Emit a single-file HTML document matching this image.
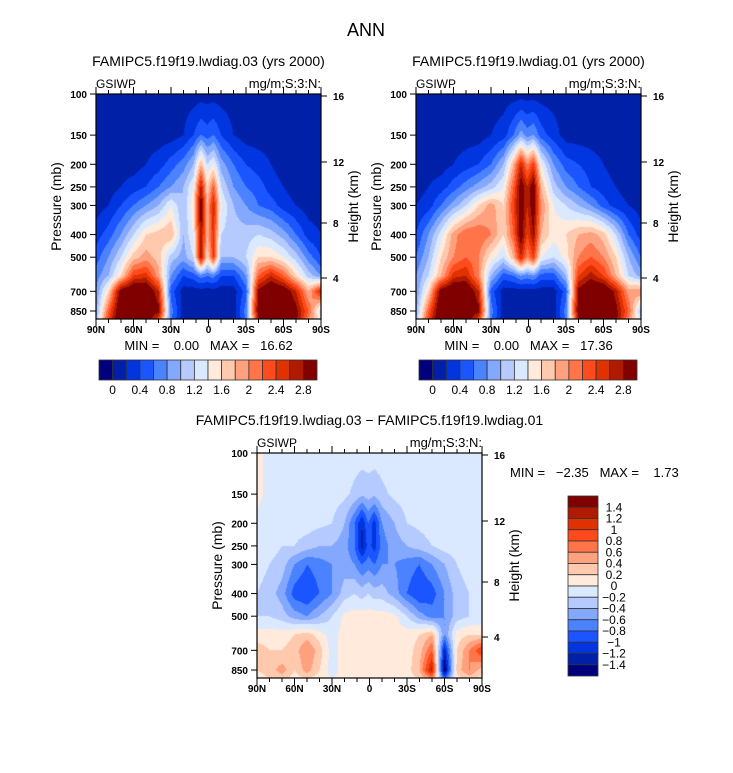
<!DOCTYPE html>
<html><head><meta charset="utf-8"><style>
body{margin:0;background:#fff;width:733px;height:773px;position:relative;overflow:hidden;font-family:"Liberation Sans",sans-serif;}
.t{position:absolute;white-space:nowrap;color:#000;}
canvas{position:absolute;}
svg{position:absolute;left:0;top:0;}
</style></head><body>
<div class="t" style="left:347px;top:20px;font-size:18px;">ANN</div>
<canvas id="cA" width="225" height="225" style="left:96px;top:94px"></canvas>
<canvas id="cB" width="225" height="225" style="left:416px;top:94px"></canvas>
<canvas id="cC" width="225" height="225" style="left:257px;top:453px"></canvas>
<svg id="ov" width="733" height="773"></svg>
<script>
const lats=[90,80,70,60,50,40,30,20,12,6,1,-4,-10,-20,-30,-40,-50,-60,-70,-80,-90];
const pres=[100,150,200,250,300,400,500,600,700,850,925];
const colors=["#00007f","#0020a8","#0035e0","#1a55ff","#4a82ff","#85a8ff","#b5cbff","#dae9ff","#ffeadc","#ffc9ae","#ffa07e","#ff7448","#ff4a1c","#e03200","#b01a00","#800000"];
const levA=[0,0.2,0.4,0.6,0.8,1,1.2,1.4,1.6,1.8,2,2.2,2.4,2.6,2.8];
const levC=[-1.4,-1.2,-1,-0.8,-0.6,-0.4,-0.2,0,0.2,0.4,0.6,0.8,1,1.2,1.4];
const bar1Labels=["0","0.4","0.8","1.2","1.6","2","2.4","2.8"];
const bar2Labels=["1.4","1.2","1","0.8","0.6","0.4","0.2","0","\u22120.2","\u22120.4","\u22120.6","\u22120.8","\u22121","\u22121.2","\u22121.4"];
const presTicks=[100,150,200,250,300,400,500,700,850];
const heightTicks=[[16,96],[12,162],[8,223],[4,278]];
const latTicks=[["90N",90],["60N",60],["30N",30],["0",0],["30S",-30],["60S",-60],["90S",-90]];
const fieldA=[
[.1,.1,.1,.1,.1,.1,.1,.1,.1,.1,.1,.1,.1,.1,.1,.1,.1,.1,.1,.1,.1],
[.1,.1,.1,.1,.1,.1,.1,.2,.4,.6,.5,.6,.4,.2,.1,.1,.1,.1,.1,.1,.1],
[.1,.1,.1,.1,.2,.3,.5,.7,1.0,1.8,1.2,1.4,.9,.6,.4,.3,.2,.1,.1,.1,.1],
[.1,.1,.2,.3,.4,.6,.8,1.0,1.4,2.7,1.6,2.2,1.2,.8,.6,.5,.3,.2,.1,.1,.1],
[.1,.2,.4,.6,.8,1.0,1.4,1.0,1.6,3.0,1.8,2.6,1.4,1.0,.8,.6,.5,.3,.2,.1,.1],
[.3,.5,.8,1.2,1.6,1.7,1.8,1.0,1.4,2.8,1.8,2.5,1.2,1.1,1.1,1.2,1.1,.9,.6,.3,.2],
[.5,.8,1.2,1.7,1.9,1.7,1.1,.9,1.2,2.8,1.6,2.4,1.0,1.0,1.2,1.6,1.6,1.4,1.1,.7,.4],
[.7,1.0,1.6,2.4,2.5,1.9,.8,.4,.5,.7,.6,.7,.4,.4,.8,2.2,2.6,2.2,1.6,1.1,.8],
[.8,1.6,3.0,3.2,3.2,2.6,.5,.1,.1,.1,.1,.1,.1,.1,.5,2.9,3.2,3.1,2.6,1.8,2.6],
[.9,2.2,3.2,3.2,3.2,2.9,.7,.1,.1,.1,.1,.1,.1,.1,.7,3.0,3.2,3.2,2.9,2.2,1.2],
[1.0,2.4,3.2,3.2,3.0,2.4,.6,.1,.1,.1,.1,.1,.1,.1,.6,2.8,3.2,3.2,2.9,2.0,1.5]];
const fieldB=[
[.1,.1,.1,.1,.1,.1,.1,.1,.1,.1,.1,.1,.1,.1,.1,.1,.1,.1,.1,.1,.1],
[.1,.1,.1,.1,.1,.1,.2,.3,.6,.9,.7,.8,.5,.3,.1,.1,.1,.1,.1,.1,.1],
[.1,.1,.1,.2,.3,.4,.6,1.0,1.8,2.6,2.0,2.4,1.4,.8,.5,.4,.3,.2,.1,.1,.1],
[.1,.2,.3,.5,.7,.9,1.1,1.4,2.2,3.0,2.6,3.0,1.8,1.1,.8,.6,.4,.3,.2,.1,.1],
[.2,.3,.6,.9,1.2,1.6,1.9,1.6,2.4,3.0,2.6,3.0,2.0,1.4,1.2,1.0,.8,.5,.3,.2,.1],
[.4,.8,1.3,1.9,2.2,2.2,2.0,1.6,2.2,3.0,2.4,2.8,1.8,1.5,1.6,1.8,1.9,1.7,1.2,.6,.3],
[.6,1.0,1.6,2.0,2.2,2.0,1.5,1.2,1.8,2.6,2.0,2.4,1.4,1.2,1.5,2.0,2.2,2.0,1.6,1.0,.6],
[.8,1.2,1.8,2.5,2.6,2.0,1.0,.5,.6,.8,.7,.8,.5,.5,1.0,2.4,2.7,2.4,1.8,1.2,.9],
[.8,1.6,3.0,3.2,3.2,2.6,.5,.1,.1,.1,.1,.1,.1,.1,.5,2.9,3.2,3.2,2.7,1.9,2.0],
[.9,2.2,3.2,3.2,3.2,2.9,.7,.1,.1,.1,.1,.1,.1,.1,.7,3.0,3.2,3.2,2.9,2.2,1.0],
[1.0,2.4,3.2,3.2,3.0,2.4,.6,.1,.1,.1,.1,.1,.1,.1,.6,2.8,3.2,3.2,2.9,2.0,1.3]];
const fieldC=[
[.1,-.1,-.1,-.1,-.1,-.1,-.1,-.1,-.1,-.1,-.1,-.1,-.1,-.1,-.1,-.1,-.1,-.1,-.1,-.1,-.1],
[.1,-.1,-.1,-.1,-.1,-.1,-.1,-.15,-.25,-.35,-.3,-.35,-.25,-.15,-.1,-.1,-.1,-.1,-.1,-.1,-.1],
[-.1,-.1,-.1,-.1,-.1,-.15,-.2,-.4,-.8,-1.2,-.8,-1.1,-.6,-.4,-.2,-.15,-.1,-.1,-.1,-.1,-.1],
[-.1,-.1,-.2,-.2,-.3,-.4,-.4,-.5,-.8,-1.3,-.9,-1.1,-.7,-.5,-.4,-.3,-.2,-.1,-.1,-.1,-.1],
[-.1,-.2,-.3,-.6,-.8,-.7,-.6,-.5,-.6,-.8,-.7,-.8,-.6,-.6,-.7,-.8,-.6,-.4,-.2,-.1,-.1],
[-.2,-.3,-.5,-.9,-1.0,-.8,-.6,-.3,-.2,-.3,-.2,-.3,-.3,-.5,-.8,-1.0,-.9,-.6,-.3,-.2,-.2],
[-.2,-.2,-.3,-.5,-.6,-.4,-.2,.05,.1,.1,.1,.1,.1,.05,-.2,-.5,-.7,-.6,-.3,-.2,-.2],
[.1,.1,.1,.2,.3,.1,-.1,.1,.1,.1,.1,.1,.1,.1,.1,.2,.4,-.6,.1,.2,.2],
[.3,.2,.2,.3,.6,.3,-.1,.1,.1,.1,.1,.1,.1,.1,.1,.3,.8,-1.2,.2,.6,1.0],
[.2,.3,.5,.2,.5,.2,-.1,.1,.1,.1,.1,.1,.1,.1,.1,.4,1.3,-1.6,.3,.6,.3],
[.1,.2,.3,.1,.2,.1,0,.1,.1,.1,.1,.1,.1,.1,.1,.2,.6,-.8,.1,.3,.1]];

const W=225,H=225,K=101.4;
function xOf(lat){return (90-lat)/180*W;}
function yOf(p){return K*Math.log(p/100);}
function interp1(arr,v){
  if(v<=arr[0])return[0,0];
  for(let i=0;i<arr.length-1;i++){if(v<=arr[i+1])return[i,(v-arr[i])/(arr[i+1]-arr[i])];}
  return[arr.length-2,1];
}
const xs=lats.map(xOf), ys=pres.map(yOf);
function drawField(id,field,lev){
  const ctx=document.getElementById(id).getContext('2d');
  for(let py=0;py<H;py++){
    const [j,ty]=interp1(ys,py+0.5);
    for(let px=0;px<W;px++){
      const [i,tx]=interp1(xs,px+0.5);
      const a=field[j][i]*(1-tx)+field[j][i+1]*tx;
      const b=field[j+1][i]*(1-tx)+field[j+1][i+1]*tx;
      const v=a*(1-ty)+b*ty;
      let k=0;while(k<lev.length&&v>=lev[k])k++;
      ctx.fillStyle=colors[k];ctx.fillRect(px,py,1,1);
    }
  }
}
drawField('cA',fieldA,levA);drawField('cB',fieldB,levA);drawField('cC',fieldC,levC);

const NS='http://www.w3.org/2000/svg',ov=document.getElementById('ov');
function mk(tag,attrs,txt){const e=document.createElementNS(NS,tag);for(const k in attrs)e.setAttribute(k,attrs[k]);if(txt!==undefined)e.textContent=txt;ov.appendChild(e);return e;}
function panel(x0,y0,name,title,minmax){
  let e=mk('rect',{x:x0,y:y0,width:W,height:H,fill:'none',stroke:'#000','stroke-width':1.2});
  
  presTicks.forEach(p=>{const y=y0+yOf(p);
    mk('line',{x1:x0-6,x2:x0,y1:y,y2:y,stroke:'#000'});
    e=mk('text',{x:x0-9,y:y+4,'text-anchor':'end','font-size':10,'font-weight':'bold','font-family':'Liberation Sans'},p);
    });
  heightTicks.forEach(([h,yy])=>{const y=y0+yy-94;
    mk('line',{x1:x0+W,x2:x0+W+6,y1:y,y2:y,stroke:'#000'});
    e=mk('text',{x:x0+W+12,y:y+4,'font-size':10,'font-weight':'bold','font-family':'Liberation Sans'},h);
    });
  for(let l=90;l>=-90;l-=10){const x=x0+xOf(l),len=(l%30===0)?7:4;
    mk('line',{x1:x,x2:x,y1:y0-len,y2:y0,stroke:'#000'});mk('line',{x1:x,x2:x,y1:y0+H,y2:y0+H+len,stroke:'#000'});}
  latTicks.forEach(([s,l])=>{e=mk('text',{x:x0+xOf(l),y:y0+H+14,'text-anchor':'middle','font-size':10,'font-weight':'bold','font-family':'Liberation Sans'},s);
    });
  e=mk('text',{transform:`translate(${x0-35},${y0+H/2}) rotate(-90)`,'text-anchor':'middle','font-size':14,'font-family':'Liberation Sans'},'Pressure (mb)');
  
  e=mk('text',{transform:`translate(${x0+W+37},${y0+H/2}) rotate(-90)`,'text-anchor':'middle','font-size':14,'font-family':'Liberation Sans'},'Height (km)');
  
  e=mk('text',{x:x0,y:y0-6,'font-size':12,'font-family':'Liberation Sans'},'GSIWP');
  
  e=mk('text',{x:x0+W,y:y0-6,'text-anchor':'end','font-size':13,'font-family':'Liberation Sans'},'mg/m:S:3:N:');
  
  e=mk('text',{x:x0+W/2,y:y0-28,'text-anchor':'middle','font-size':14,'font-family':'Liberation Sans'},title);
  
  if(minmax){e=mk('text',{x:x0+W/2,y:y0+H+31,'text-anchor':'middle','font-size':13,'font-family':'Liberation Sans',style:'white-space:pre'},minmax);
    }
}
panel(96,94,'panel-03','FAMIPC5.f19f19.lwdiag.03 (yrs 2000)','MIN =    0.00   MAX =   16.62');
panel(416,94,'panel-01','FAMIPC5.f19f19.lwdiag.01 (yrs 2000)','MIN =    0.00   MAX =   17.36');
panel(257,453,'panel-diff','FAMIPC5.f19f19.lwdiag.03 \u2212 FAMIPC5.f19f19.lwdiag.01',null);
let e=mk('text',{x:510,y:477,'font-size':13,'font-family':'Liberation Sans',style:'white-space:pre'},'MIN =   \u22122.35   MAX =    1.73');

function hbar(x0,y0){const bw=218/16;
  colors.forEach((c,i)=>{const r=mk('rect',{x:x0+i*bw,y:y0,width:bw,height:20,fill:c,stroke:'#333','stroke-width':0.8});
    });
  bar1Labels.forEach((s,i)=>{const t=mk('text',{x:x0+(1+2*i)*bw,y:y0+34,'text-anchor':'middle','font-size':12,'font-family':'Liberation Sans'},s);
    });}
hbar(99,360);hbar(419,360);
(function(){const x0=568,y0=496,bh=180/16;
  colors.slice().reverse().forEach((c,i)=>{const r=mk('rect',{x:x0,y:y0+i*bh,width:30,height:bh,fill:c,stroke:'#333','stroke-width':0.8});
    });
  bar2Labels.forEach((s,i)=>{const t=mk('text',{x:x0+46,y:y0+(i+1)*bh+4,'text-anchor':'middle','font-size':12,'font-family':'Liberation Sans'},s);
    });})();
</script>
</body></html>
